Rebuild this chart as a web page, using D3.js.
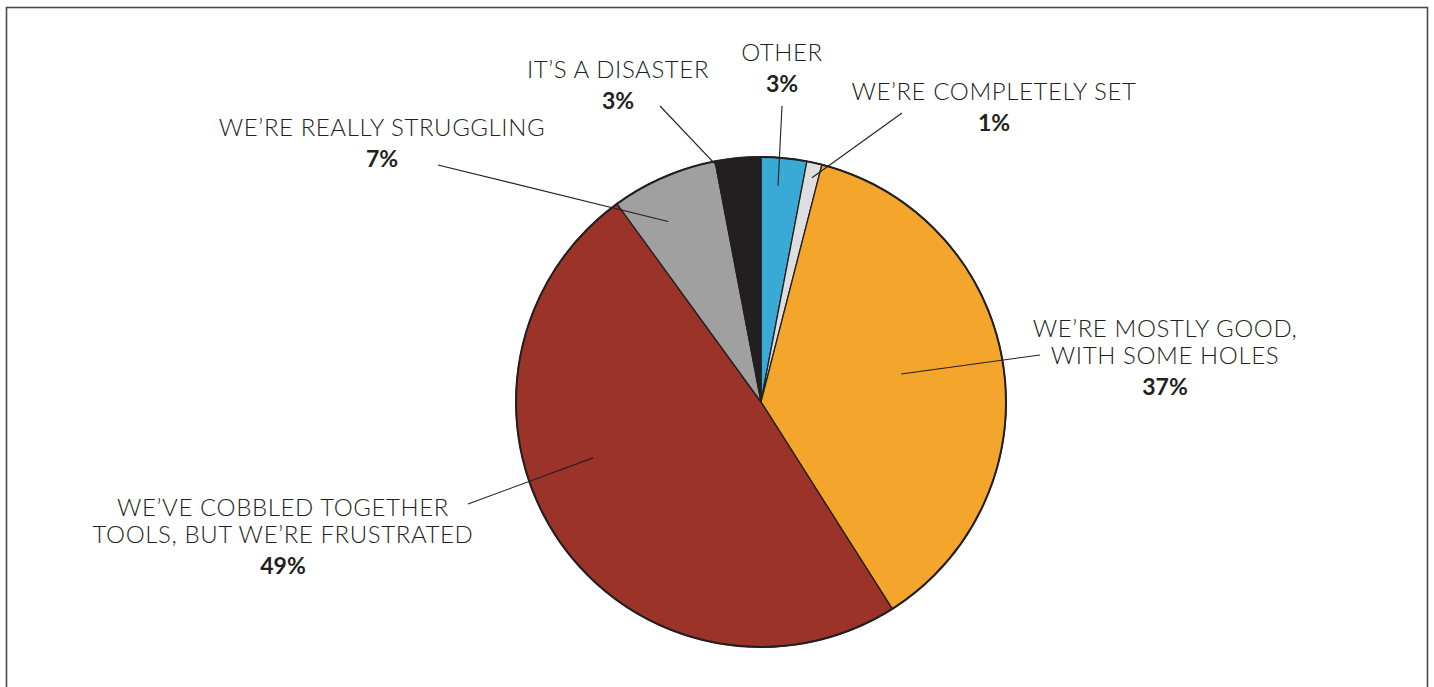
<!DOCTYPE html>
<html><head><meta charset="utf-8">
<script src="https://cdn.jsdelivr.net/npm/d3@7"></script>
<style>
html,body{margin:0;padding:0;background:#fff;}
svg{display:block;}
text{font-family:Lato,"Open Sans",sans-serif;fill:#231f20;}
</style></head>
<body>
<svg id="chart" width="1434" height="687"></svg>
<script>
// Data
const categories = ["OTHER","WE’RE COMPLETELY SET","WE’RE MOSTLY GOOD, WITH SOME HOLES","WE’VE COBBLED TOGETHER TOOLS, BUT WE’RE FRUSTRATED","WE’RE REALLY STRUGGLING","IT’S A DISASTER"];
const values = [3, 1, 37, 49, 7, 3];
const colors = ["#39a9d5","#dedede","#f3a52c","#9c3328","#a0a0a0","#231f20"];
// Label layout (line breaks, anchor positions, leader lines)
const labelLines = [["OTHER"],["WE’RE COMPLETELY SET"],["WE’RE MOSTLY GOOD,","WITH SOME HOLES"],["WE’VE COBBLED TOGETHER","TOOLS, BUT WE’RE FRUSTRATED"],["WE’RE REALLY STRUGGLING"],["IT’S A DISASTER"]];
const labelPos = [[782,61],[994,100],[1165,337],[283,516],[382,136],[618,78]];
const leaderOuter = [[782,106],[902,113],[1040,355],[468,504],[438,165],[660,106]];
const leaderPolar = [[4.5,217],[12.8,230],[78.7,143],[251.6,177],[332.8,203],[355.8,206]];

const svg = d3.select("#chart");
const cx = 761, cy = 402, R = 245;

svg.append("rect").attr("x",6.5).attr("y",7.5).attr("width",1421).attr("height",700)
  .attr("fill","none").attr("stroke","#4a4a4a").attr("stroke-width",1.6);

const pie = d3.pie().sort(null).value(d=>d);
const arcs = pie(values);
const arc = d3.arc().innerRadius(0).outerRadius(R);
const g = svg.append("g").attr("transform",`translate(${cx},${cy})`);
g.selectAll("path").data(arcs).join("path")
  .attr("d",arc).attr("fill",(d,i)=>colors[i])
  .attr("stroke","#231f20").attr("stroke-width",1.3).attr("stroke-linejoin","round");
g.append("circle").attr("r",R).attr("fill","none").attr("stroke","#231f20").attr("stroke-width",2);

// leader lines
const lg = svg.append("g");
values.forEach((v,i)=>{
  const a = leaderPolar[i][0]*Math.PI/180, r = leaderPolar[i][1];
  const x1 = cx + r*Math.sin(a), y1 = cy - r*Math.cos(a);
  lg.append("line").attr("x1",leaderOuter[i][0]).attr("y1",leaderOuter[i][1])
    .attr("x2",x1).attr("y2",y1).attr("stroke","#231f20").attr("stroke-width",1.1);
});

// labels
const fmt = v => v + "%";
values.forEach((v,i)=>{
  const [x,y] = labelPos[i];
  const t = svg.append("text").attr("text-anchor","middle").attr("font-size",24);
  const lines = labelLines[i];
  lines.forEach((s,k)=>{
    t.append("tspan").attr("x",x).attr("y",y + k*27).attr("font-weight",300)
      .attr("letter-spacing","0.6px").text(s);
  });
  t.append("tspan").attr("x",x).attr("y",y + (lines.length-1)*27 + 31)
    .attr("font-weight",700).attr("font-size",23).text(fmt(v));
});
</script>
</body></html>
